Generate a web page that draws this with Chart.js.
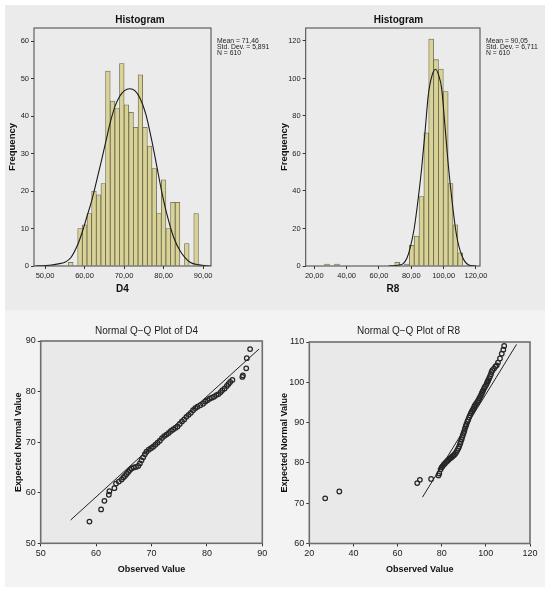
<!DOCTYPE html>
<html>
<head>
<meta charset="utf-8">
<script src="https://cdn.jsdelivr.net/npm/chart.js@4.4.1/dist/chart.umd.min.js"></script>
<style>
  body { margin: 0; background: #fff; width: 550px; height: 591px; position: relative; overflow: hidden;
         font-family: "Liberation Sans", Arial, sans-serif; }
  .panel { position: absolute; }
  #topPanel { left: 5px; top: 5px; width: 540px; height: 305px; background: #ebebeb; }
  #bottomPanel { left: 5px; top: 310px; width: 540px; height: 277px; background: #f3f3f3; }
  canvas { position: absolute; }
  .stats { position: absolute; font-size: 6.8px; line-height: 6px; color: #222; white-space: pre; }
</style>
</head>
<body>
<div class="panel" id="topPanel"></div>
<div class="panel" id="bottomPanel"></div>
<canvas id="histD4" width="280" height="305" style="left:0px;top:0px"></canvas>
<canvas id="histR8" width="247" height="305" style="left:275px;top:0px"></canvas>
<canvas id="qqD4" width="293" height="281" style="left:0px;top:310px"></canvas>
<canvas id="qqR8" width="267" height="281" style="left:275px;top:310px"></canvas>
<div class="stats" style="left:217px;top:38px">Mean = 71,46
Std. Dev. = 5,891
N = 610</div>
<div class="stats" style="left:486px;top:38px">Mean = 90,05
Std. Dev. = 6,711
N = 610</div>
<script>
// ---- D4 histogram (bin centres / counts) ----
const d4Bins   = [56.50, 58.85, 60.03, 61.20, 62.38, 63.55, 64.73, 65.90, 67.08, 68.25, 69.43, 70.60, 71.78,
                  72.95, 74.13, 75.30, 76.48, 77.65, 78.83, 80.00, 81.18, 82.35, 83.53, 85.88, 88.23];
const d4Counts = [1, 10, 11, 14, 20, 19, 22, 52, 44, 42, 54, 43, 41,
                  37, 51, 37, 32, 26, 14, 23, 10, 17, 17, 6, 14];
// normal curve as drawn over it
const d4CurveX = [47.5, 50, 52, 54, 55, 56.5, 58.3, 59.4, 60.6, 61.8, 63, 64.2, 65.4, 66.5, 67.7, 68.9, 70.1,
                  71.4, 72.8, 74.1, 75.5, 77, 78.3, 79.5, 80.8, 82.5, 84.2, 86.7, 89, 91.8];
const d4CurveY = [0, 0.1, 0.3, 0.7, 1.0, 2.2, 5.8, 9.0, 13.2, 17.4, 22.5, 27.8, 33.3, 38.3, 42.6, 45.3, 46.8,
                  47.3, 46.7, 44.6, 40.5, 33.5, 26.5, 20.0, 14.0, 7.8, 4.0, 1.0, 0.3, 0];
const d4HistXTicks = [50, 60, 70, 80, 90];
const d4HistYTicks = [0, 10, 20, 30, 40, 50, 60];

// ---- R8 histogram ----
const r8Bins   = [27.85, 34.05, 71.3, 77.3, 80.3, 83.3, 86.3, 89.3, 92.3, 95.3, 98.3, 101.3, 104.3, 107.3, 110.3];
const r8Counts = [1, 1, 2, 1, 11, 16, 37, 71, 121, 110, 105, 93, 44, 22, 7];
const r8CurveX = [66, 69.9, 72.5, 75, 77.2, 79.2, 81.8, 84.3, 86.4, 88.5, 90.5, 92.8, 95.1, 97, 98.8, 100.8,
                  102.9, 105.3, 108, 111.2, 115.2, 120];
const r8CurveY = [0, 0.2, 0.5, 1.3, 4, 9.3, 20, 36, 52, 71.5, 91, 101.5, 104.9, 101.5, 94.6, 75,
                  53.7, 34, 16.4, 5.7, 0.7, 0];
const r8HistXTicks = [20, 40, 60, 80, 100, 120];
const r8HistYTicks = [0, 20, 40, 60, 80, 100, 120];

// ---- Q-Q plot of D4 (observed, expected normal) ----
const qqD4Observed = [58.8, 60.9, 61.5, 62.3, 62.4, 63.3, 63.6, 64.1, 64.6, 64.9, 65.2, 65.5, 65.8, 66.1, 66.4,
  66.8, 67.2, 67.6, 67.9, 68.2, 68.5, 68.8, 69.1, 69.5, 69.9, 70.3, 70.7, 71.1, 71.5, 71.9, 72.3, 72.7, 73.1,
  73.5, 73.9, 74.3, 74.7, 75.1, 75.5, 75.9, 76.3, 76.7, 77.1, 77.5, 77.9, 78.3, 78.8, 79.3, 79.7, 80.1, 80.5,
  80.9, 81.3, 81.7, 82.1, 82.5, 82.8, 83.2, 83.6, 83.9, 84.2, 84.6, 86.4, 86.5, 87.1, 87.2, 87.8];
const qqD4Expected = [54.3, 56.7, 58.4, 59.6, 60.3, 60.9, 61.8, 62.2, 62.6, 63.0, 63.3, 63.7, 64.1, 64.5, 64.8,
  65.0, 65.1, 65.3, 65.8, 66.4, 67.0, 67.6, 68.1, 68.5, 68.8, 69.1, 69.5, 69.9, 70.3, 70.8, 71.2, 71.5, 71.8,
  72.2, 72.5, 72.8, 73.1, 73.6, 74.1, 74.5, 75.0, 75.4, 75.8, 76.3, 76.7, 77.0, 77.3, 77.6, 78.0, 78.3, 78.6,
  78.8, 79.0, 79.3, 79.5, 79.9, 80.3, 80.6, 81.1, 81.5, 81.9, 82.3, 82.9, 83.2, 84.6, 86.6, 88.4];
const qqD4LineX = [55.4, 89.4];
const qqD4LineY = [54.6, 88.4];
const qqD4Ticks = [50, 60, 70, 80, 90];

// ---- Q-Q plot of R8 ----
const qqR8Observed = [27.2, 33.6, 68.9, 70.1, 75.2, 78.5, 78.9, 79.5, 80.0, 80.4, 81.0, 81.5, 82.0, 82.5, 83.0,
  83.5, 84.0, 84.5, 85.0, 85.5, 86.0, 86.5, 87.0, 87.5, 87.9, 88.3, 88.6, 89.0, 89.3, 89.6, 89.9, 90.2, 90.5,
  90.9, 91.2, 91.6, 92.0, 92.4, 92.8, 93.2, 93.6, 94.0, 94.4, 94.8, 95.1, 95.6, 96.1, 96.6, 97.0, 97.4, 97.8,
  98.2, 98.5, 98.8, 99.2, 99.6, 100.1, 100.5, 100.8, 101.1, 101.5, 101.9, 102.3, 102.6, 103.0, 103.7, 104.3,
  104.9, 105.5, 106.4, 107.2, 107.9, 108.3];
const qqR8Expected = [71.2, 72.9, 75.0, 75.8, 76.0, 76.9, 77.4, 78.4, 78.9, 79.2, 79.6, 79.9, 80.2, 80.5, 80.7,
  81.0, 81.2, 81.4, 81.7, 81.9, 82.2, 82.6, 83.1, 83.6, 84.1, 84.7, 85.2, 85.8, 86.4, 86.9, 87.4, 87.9, 88.5,
  89.1, 89.6, 90.2, 90.7, 91.3, 91.8, 92.3, 92.7, 93.1, 93.5, 94.0, 94.3, 94.7, 95.1, 95.5, 96.0, 96.4, 96.8,
  97.3, 97.7, 98.0, 98.5, 98.9, 99.3, 99.8, 100.2, 100.5, 101.0, 101.5, 102.0, 102.6, 103.0, 103.4, 103.9,
  104.2, 104.9, 105.9, 107.1, 108.1, 109.0];
const qqR8LineX = [71.3, 113.9];
const qqR8LineY = [71.5, 109.4];
const qqR8XTicks = [20, 40, 60, 80, 100, 120];
const qqR8YTicks = [60, 70, 80, 90, 100, 110];

const FONT = '"Liberation Sans", Arial, sans-serif';
const toPoints = (xs, ys) => xs.map((x, i) => ({ x: x, y: ys[i] }));
const comma2 = v => v.toFixed(2).replace('.', ',');

// fills the plot area and draws the box round it, like SPSS does
const plotFrame = {
  id: 'plotFrame',
  beforeDraw(chart, args, opts) {
    const { ctx, chartArea: a } = chart;
    ctx.save();
    ctx.fillStyle = opts.fill;
    ctx.fillRect(a.left, a.top, a.width, a.height);
    ctx.restore();
  },
  afterDraw(chart, args, opts) {
    const { ctx, chartArea: a } = chart;
    ctx.save();
    ctx.strokeStyle = opts.color;
    ctx.lineWidth = opts.width;
    ctx.strokeRect(a.left, a.top, a.width, a.height);
    ctx.restore();
  }
};

function axis(o) {
  return {
    type: 'linear',
    position: o.position,
    min: o.min,
    max: o.max,
    offset: false,
    afterBuildTicks: s => { s.ticks = o.ticks.map(v => ({ value: v })); },
    afterFit: s => { if (o.position === 'left') s.width = o.size; else s.height = o.size; },
    grid: { drawOnChartArea: false, drawTicks: true, tickLength: 3, color: '#333', offset: false },
    border: { display: false },
    ticks: { autoSkip: false, maxRotation: 0, padding: o.tickPad, color: '#222',
             font: { family: FONT, size: o.tickSize }, callback: o.format || (v => v) },
    title: { display: true, text: o.title, color: '#111',
             font: { family: FONT, size: o.titleSize, weight: 'bold' }, padding: o.titlePad }
  };
}

// invisible right-hand axis, only used to hold the right margin
const rightMargin = w => ({
  type: 'linear', position: 'right', display: true,
  afterFit: s => { s.width = w; },
  ticks: { display: false }, grid: { display: false }, border: { display: false }
});

function histogram(id, c) {
  return new Chart(document.getElementById(id), {
    type: 'bar',
    data: {
      datasets: [
        { type: 'line', data: toPoints(c.curveX, c.curveY), borderColor: '#1a1a1a', borderWidth: 1.1,
          pointRadius: 0, cubicInterpolationMode: 'monotone', order: 0 },
        { type: 'bar', data: toPoints(c.bins, c.counts), backgroundColor: '#d8d297', borderColor: '#66644a',
          borderWidth: 0.8, barPercentage: 1, categoryPercentage: 1, order: 1 }
      ]
    },
    options: {
      responsive: false, animation: false,
      layout: { padding: 0 },
      scales: {
        x: axis({ position: 'bottom', min: c.xMin, max: c.xMax, ticks: c.xTicks, size: 39, tickPad: 2.5,
                  tickSize: 7.5, format: comma2, title: c.xTitle, titleSize: 10, titlePad: { top: 0, bottom: 10 } }),
        y: axis({ position: 'left', min: 0, max: c.yMax, ticks: c.yTicks, size: c.ySize, tickPad: 2,
                  tickSize: 7.5, title: 'Frequency', titleSize: 9.5, titlePad: { top: c.yTitlePad, bottom: 0 } }),
        pad: rightMargin(c.right)
      },
      plugins: {
        legend: { display: false }, tooltip: { enabled: false },
        title: { display: true, text: 'Histogram', color: '#111', font: { family: FONT, size: 10, weight: 'bold' },
                 padding: { top: 14, bottom: 2 } },
        plotFrame: { fill: '#ebebeb', color: '#444', width: 1 }
      }
    },
    plugins: [plotFrame]
  });
}

function qqPlot(id, c) {
  return new Chart(document.getElementById(id), {
    type: 'scatter',
    data: {
      datasets: [
        { type: 'line', data: toPoints(c.lineX, c.lineY), borderColor: '#222', borderWidth: 1, pointRadius: 0, order: 1 },
        { data: toPoints(c.obs, c.exp), pointStyle: 'circle', pointRadius: 2.3, backgroundColor: 'rgba(0,0,0,0)',
          borderColor: '#262626', pointBorderWidth: 1.25, order: 0 }
      ]
    },
    options: {
      responsive: false, animation: false,
      layout: { padding: 0 },
      scales: {
        x: axis({ position: 'bottom', min: c.xTicks[0], max: c.xTicks[c.xTicks.length - 1], ticks: c.xTicks,
                  size: c.xSize, tickPad: 1.6, tickSize: 9, title: 'Observed Value', titleSize: 9,
                  titlePad: { top: 0, bottom: 16.3 } }),
        y: axis({ position: 'left', min: c.yTicks[0], max: c.yTicks[c.yTicks.length - 1], ticks: c.yTicks,
                  size: c.ySize, tickPad: 2, tickSize: 9, title: 'Expected Normal Value', titleSize: 9,
                  titlePad: { top: c.yTitlePad, bottom: 0 } }),
        pad: rightMargin(c.right)
      },
      plugins: {
        legend: { display: false }, tooltip: { enabled: false },
        title: { display: true, text: c.title, color: '#222', font: { family: FONT, size: 10, weight: 'normal' },
                 padding: c.titlePad },
        plotFrame: { fill: '#e9e9e9', color: '#6e6e6e', width: 1.6 }
      }
    },
    plugins: [plotFrame]
  });
}

histogram('histD4', { bins: d4Bins, counts: d4Counts, curveX: d4CurveX, curveY: d4CurveY,
  xMin: 47.2, xMax: 92.0, yMax: 63.5, xTicks: d4HistXTicks, yTicks: d4HistYTicks,
  xTitle: 'D4', ySize: 34, yTitlePad: 6.3, right: 69 });

histogram('histR8', { bins: r8Bins, counts: r8Counts, curveX: r8CurveX, curveY: r8CurveY,
  xMin: 14.7, xMax: 122.5, yMax: 126.9, xTicks: r8HistXTicks, yTicks: r8HistYTicks,
  xTitle: 'R8', ySize: 30.7, yTitlePad: 4, right: 42 });

qqPlot('qqD4', { obs: qqD4Observed, exp: qqD4Expected, lineX: qqD4LineX, lineY: qqD4LineY,
  xTicks: qqD4Ticks, yTicks: qqD4Ticks, title: 'Normal Q\u2212Q Plot of D4', titlePad: { top: 15.7, bottom: 3.3 },
  xSize: 47.7, ySize: 40.7, yTitlePad: 12.9, right: 30.7 });

qqPlot('qqR8', { obs: qqR8Observed, exp: qqR8Expected, lineX: qqR8LineX, lineY: qqR8LineY,
  xTicks: qqR8XTicks, yTicks: qqR8YTicks, title: 'Normal Q\u2212Q Plot of R8', titlePad: { top: 15, bottom: 5 },
  xSize: 47.5, ySize: 34.3, yTitlePad: 3.9, right: 12 });
</script>
</body>
</html>
